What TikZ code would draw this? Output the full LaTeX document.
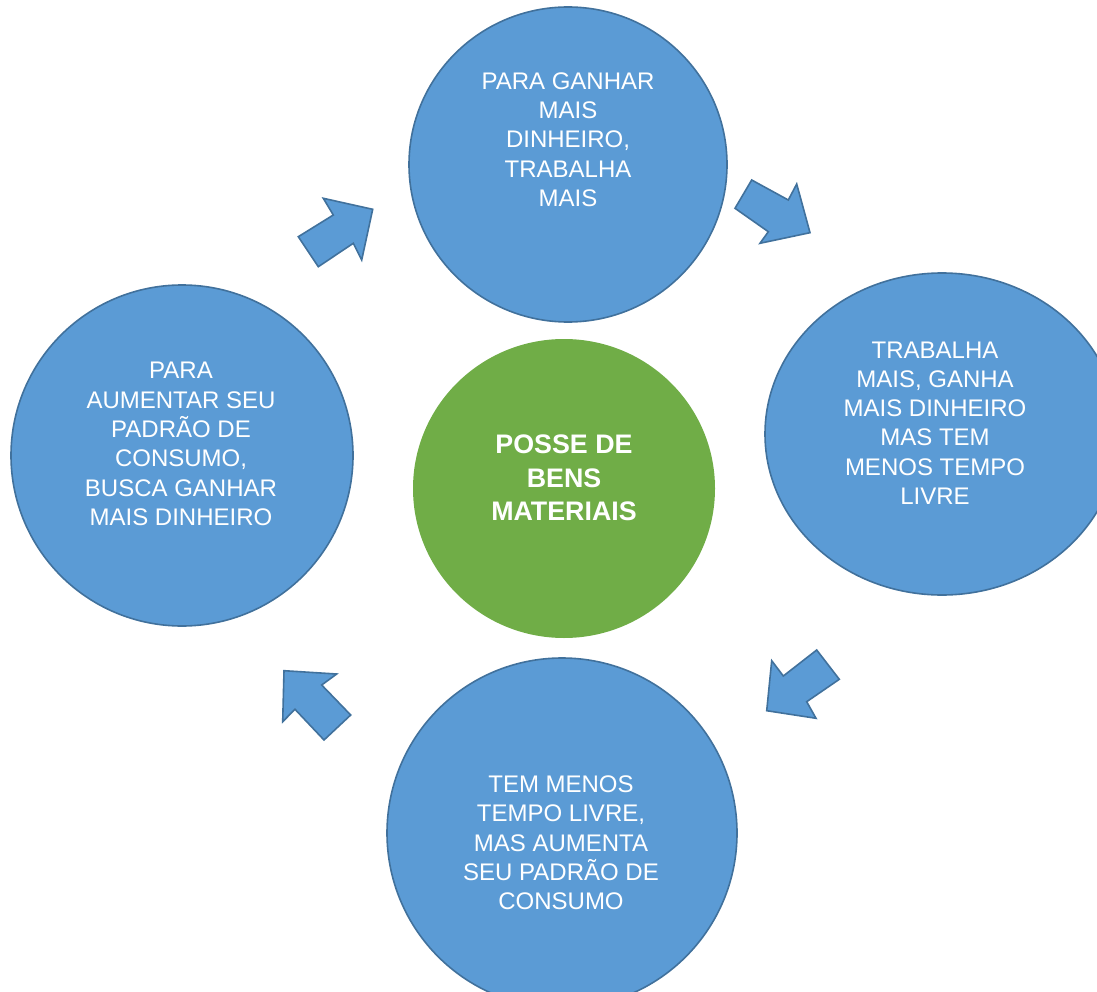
\documentclass[tikz,border=0pt]{standalone}
\usepackage{fontspec}
\setmainfont{Liberation Sans}
\usetikzlibrary{shapes.geometric}
\definecolor{cblue}{HTML}{5B9BD5}
\definecolor{cline}{HTML}{41719C}
\definecolor{cgreen}{HTML}{70AD47}
\begin{document}
\begin{tikzpicture}[x=1pt,y=-1pt,
  bluecirc/.style={ellipse, fill=cblue, draw=cline, line width=1.6pt, inner sep=0pt},
  greencirc/.style={ellipse, fill=cgreen, draw=none, inner sep=0pt},
  bluetext/.style={text=white, align=center, font=\fontsize{24}{29.3}\selectfont, inner sep=0pt},
  greentext/.style={text=white, align=center, font=\bfseries\fontsize{26.8}{33.3}\selectfont, inner sep=0pt},
  blockarrow/.style={fill=cblue, draw=cline, line width=1.6pt, line join=miter}]
\useasboundingbox (0,0) rectangle (1097,992);
\clip (0,0) rectangle (1097,992);
% circles
\node[bluecirc, minimum width=318pt, minimum height=315pt] (top) at (568,164.5) {};
\node[bluecirc, minimum width=354pt, minimum height=322pt] (right) at (942,434) {};
\node[bluecirc, minimum width=350pt, minimum height=350pt] (bottom) at (562,833) {};
\node[bluecirc, minimum width=342pt, minimum height=341pt] (left) at (182,455.5) {};
\node[greencirc, minimum width=302pt, minimum height=299pt] (center) at (564,488.5) {};
% texts
\node[bluetext] (ttop) at (568,139.5) {PARA GANHAR\\MAIS\\DINHEIRO,\\TRABALHA\\MAIS};
\node[bluetext] (tright) at (935,423) {TRABALHA\\MAIS, GANHA\\MAIS DINHEIRO\\MAS TEM\\MENOS TEMPO\\LIVRE};
\node[bluetext] (tbottom) at (561,843) {TEM MENOS\\TEMPO LIVRE,\\MAS AUMENTA\\SEU PADRÃO DE\\CONSUMO};
\node[bluetext] (tleft) at (181,444) {PARA\\AUMENTAR SEU\\PADRÃO DE\\CONSUMO,\\BUSCA GANHAR\\MAIS DINHEIRO};
\node[greentext] (tcenter) at (564,478) {POSSE DE\\BENS\\MATERIAIS};
% block arrows
\draw[blockarrow] (298.3,236.7) -- (333.3,215) -- (323.3,198.3) -- (372.7,209.3) -- (361.7,260) -- (353.3,243.3) -- (318.3,266.7) -- cycle;
\draw[blockarrow] (751.7,180) -- (788.3,200) -- (796.7,184) -- (810,232.7) -- (760,243.3) -- (768.3,231.7) -- (735,208.3) -- cycle;
\draw[blockarrow] (816.7,650) -- (839.3,679.3) -- (806.7,701.7) -- (816,718.3) -- (766.7,710.7) -- (771.7,660.7) -- (783.3,676) -- cycle;
\draw[blockarrow] (284,670.7) -- (336.7,674) -- (321.7,685) -- (350.7,715) -- (324,740) -- (295,709.3) -- (282.7,721.7) -- cycle;
\end{tikzpicture}
\end{document}
